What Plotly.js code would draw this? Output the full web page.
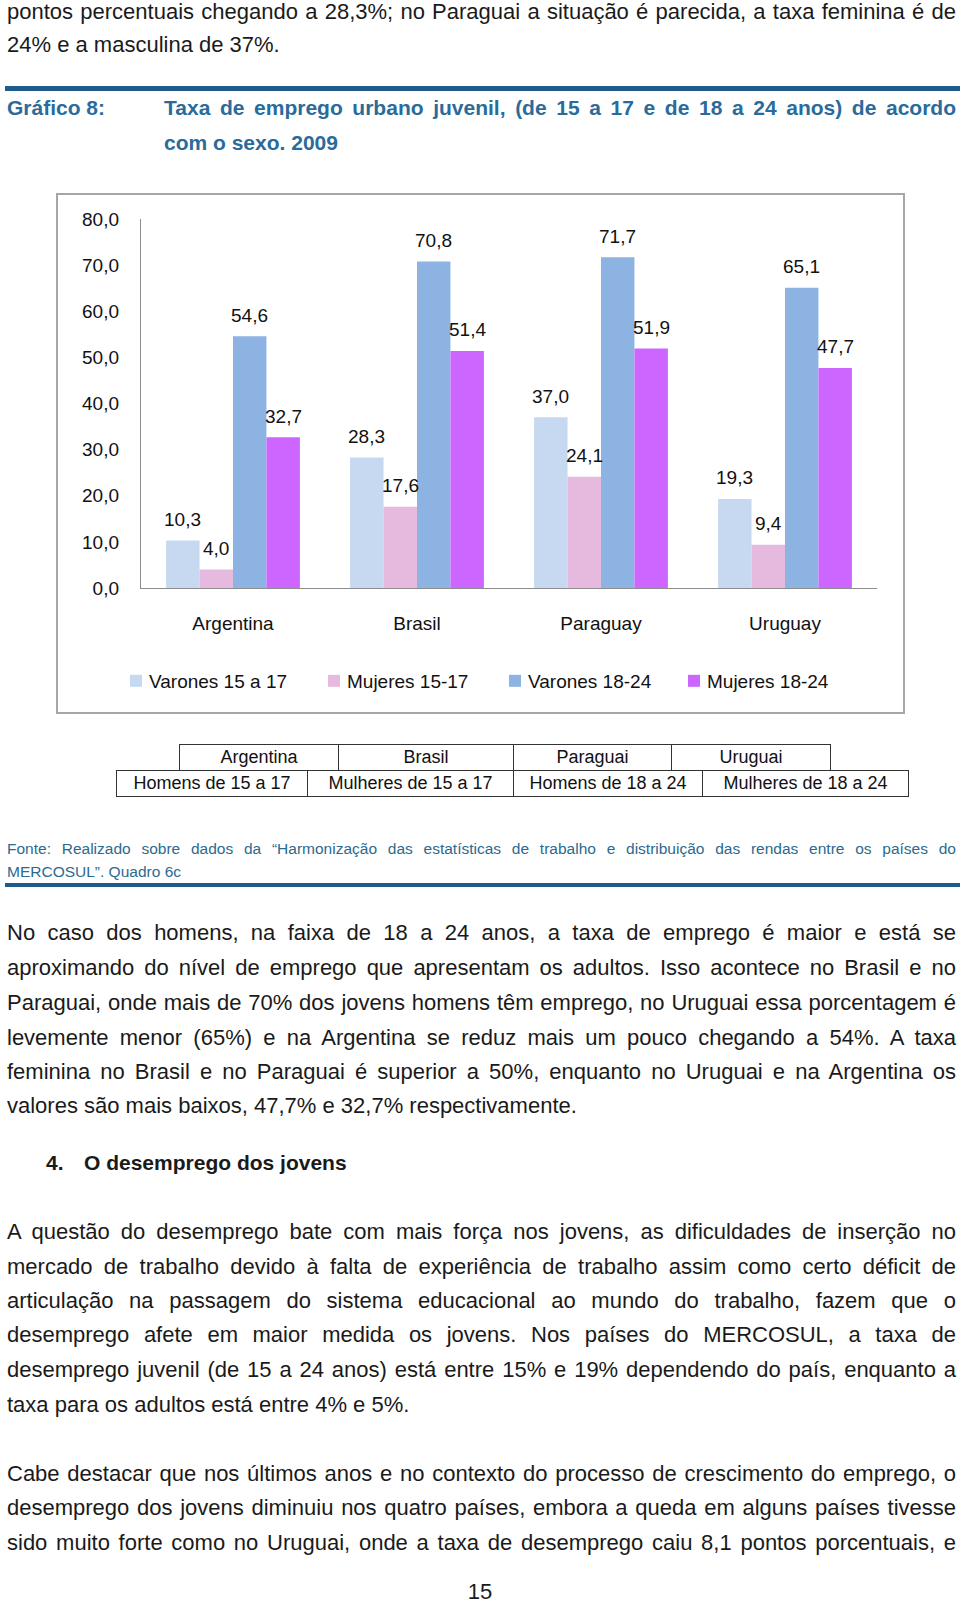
<!DOCTYPE html>
<html><head><meta charset="utf-8">
<script src="https://cdn.plot.ly/plotly-3.0.1.min.js"></script>
<style>
html,body{margin:0;padding:0;background:#fff;}
body{width:960px;height:1603px;position:relative;overflow:hidden;font-family:"Liberation Sans",Arial,sans-serif;color:#1a1a1a;}
.ln{position:absolute;left:7px;width:949px;height:30px;line-height:30px;font-size:22px;white-space:nowrap;}
.j{text-align:justify;text-align-last:justify;}
.rule{position:absolute;left:5px;width:955px;height:5px;background:#1f5c8b;}
.ttl{position:absolute;height:30px;line-height:30px;font-size:21px;font-weight:bold;color:#2a6b9b;white-space:nowrap;}
.fn{position:absolute;left:7px;width:949px;height:22px;line-height:22px;font-size:15.5px;color:#2b6a90;white-space:nowrap;}
.cell{position:absolute;box-sizing:border-box;border:1px solid #333;font-size:18px;text-align:center;line-height:24px;height:27px;white-space:nowrap;color:#111;}
#box{position:absolute;left:56px;top:193px;width:849px;height:521px;box-sizing:border-box;border:2px solid #a6a6a6;}
#chart{position:absolute;left:0;top:0;width:845px;height:517px;}
#chart .legendpoints{transform:translateX(7px);}
</style>
</head><body>

<div class="ln j" style="top:-3px">pontos percentuais chegando a 28,3%; no Paraguai a situação é parecida, a taxa feminina é de</div>
<div class="ln" style="top:30px">24% e a masculina de 37%.</div>

<div class="rule" style="top:86px"></div>
<div class="ttl" style="left:7px;top:93px">Gráfico 8:</div>
<div class="ttl j" style="left:164px;width:792px;top:93px">Taxa de emprego urbano juvenil, (de 15 a 17 e de 18 a 24 anos) de acordo</div>
<div class="ttl" style="left:164px;top:128px">com o sexo. 2009</div>

<div id="box"><div id="chart"></div></div>

<div id="table"></div>

<div class="fn j" style="top:838px">Fonte: Realizado sobre dados da “Harmonização das estatísticas de trabalho e distribuição das rendas entre os países do</div>
<div class="fn" style="top:861px">MERCOSUL”. Quadro 6c</div>
<div class="rule" style="top:883px;height:4px"></div>

<div class="ln j" style="top:918px">No caso dos homens, na faixa de 18 a 24 anos, a taxa de emprego é maior e está se</div>
<div class="ln j" style="top:953px">aproximando do nível de emprego que apresentam os adultos. Isso acontece no Brasil e no</div>
<div class="ln j" style="top:988px">Paraguai, onde mais de 70% dos jovens homens têm emprego, no Uruguai essa porcentagem é</div>
<div class="ln j" style="top:1023px">levemente menor (65%) e na Argentina se reduz mais um pouco chegando a 54%. A taxa</div>
<div class="ln j" style="top:1057px">feminina no Brasil e no Paraguai é superior a 50%, enquanto no Uruguai e na Argentina os</div>
<div class="ln" style="top:1091px">valores são mais baixos, 47,7% e 32,7% respectivamente.</div>

<div class="ln" style="top:1148px;left:46px;font-weight:bold;font-size:21px">4.</div>
<div class="ln" style="top:1148px;left:84px;font-weight:bold;font-size:21px">O desemprego dos jovens</div>

<div class="ln j" style="top:1217px">A questão do desemprego bate com mais força nos jovens, as dificuldades de inserção no</div>
<div class="ln j" style="top:1252px">mercado de trabalho devido à falta de experiência de trabalho assim como certo déficit de</div>
<div class="ln j" style="top:1286px">articulação na passagem do sistema educacional ao mundo do trabalho, fazem que o</div>
<div class="ln j" style="top:1320px">desemprego afete em maior medida os jovens. Nos países do MERCOSUL, a taxa de</div>
<div class="ln j" style="top:1355px">desemprego juvenil (de 15 a 24 anos) está entre 15% e 19% dependendo do país, enquanto a</div>
<div class="ln" style="top:1390px">taxa para os adultos está entre 4% e 5%.</div>

<div class="ln j" style="top:1459px">Cabe destacar que nos últimos anos e no contexto do processo de crescimento do emprego, o</div>
<div class="ln j" style="top:1493px">desemprego dos jovens diminuiu nos quatro países, embora a queda em alguns países tivesse</div>
<div class="ln j" style="top:1528px">sido muito forte como no Uruguai, onde a taxa de desemprego caiu 8,1 pontos porcentuais, e</div>

<div class="ln" style="top:1577px;left:0;width:960px;text-align:center">15</div>

<script>
// ---- data ----
const countries = ['Argentina', 'Brasil', 'Paraguay', 'Uruguay'];
const seriesNames = ['Varones 15 a 17', 'Mujeres 15-17', 'Varones 18-24', 'Mujeres 18-24'];
const varones15a17 = [10.3, 28.3, 37.0, 19.3];
const mujeres15a17 = [4.0, 17.6, 24.1, 9.4];
const varones18a24 = [54.6, 70.8, 71.7, 65.1];
const mujeres18a24 = [32.7, 51.4, 51.9, 47.7];
const yTickValues = [0, 10, 20, 30, 40, 50, 60, 70, 80];
const tableRow1 = ['Argentina', 'Brasil', 'Paraguai', 'Uruguai'];
const tableRow2 = ['Homens de 15 a 17', 'Mulheres de 15 a 17', 'Homens de 18 a 24', 'Mulheres de 18 a 24'];

// ---- styles ----
const colors = ['#c6d9f1', '#e6b9de', '#8db3e2', '#cc66ff'];
const legendWidths = [153, 136, 134, 140];
const bargap = 0.273;
const FONT = '"Liberation Sans", Arial, sans-serif';

const allSeries = [varones15a17, mujeres15a17, varones18a24, mujeres18a24];
const nS = allSeries.length;
const barW = (1 - bargap) / nS;

const traces = allSeries.map((vals, i) => ({
  type: 'bar',
  name: seriesNames[i],
  x: countries,
  y: vals,
  marker: {color: colors[i], line: {width: 0}},
  legendwidth: legendWidths[i],
  hoverinfo: 'skip'
}));

const fmt = v => v.toFixed(1).replace('.', ',');
const annotations = [];
allSeries.forEach((vals, i) => {
  vals.forEach((v, j) => {
    annotations.push({
      x: j + (i - (nS - 1) / 2) * barW,
      y: v,
      xref: 'x', yref: 'y',
      text: fmt(v),
      showarrow: false,
      yanchor: 'middle',
      yshift: 21,
      font: {family: FONT, size: 19, color: '#111'}
    });
  });
});

const layout = {
  width: 845, height: 517,
  margin: {l: 83, r: 26, t: 24, b: 124, autoexpand: false},
  paper_bgcolor: '#fff', plot_bgcolor: '#fff',
  barmode: 'group', bargap: bargap, bargroupgap: 0,
  separators: ',.',
  font: {family: FONT, size: 19, color: '#111'},
  showlegend: true,
  legend: {
    orientation: 'h', x: -0.0435, xanchor: 'left', y: -0.252, yanchor: 'middle',
    font: {family: FONT, size: 19, color: '#111'},
    traceorder: 'normal', itemclick: false, itemdoubleclick: false
  },
  xaxis: {
    type: 'category', showgrid: false, zeroline: false,
    showline: true, linecolor: '#8c8c8c', linewidth: 1.2,
    ticks: '', ticklabelstandoff: 18,
    tickfont: {family: FONT, size: 19, color: '#111'},
    fixedrange: true
  },
  yaxis: {
    range: [0, 80], tickvals: yTickValues, tickformat: '.1f',
    showgrid: false, zeroline: false,
    showline: true, linecolor: '#8c8c8c', linewidth: 1.2,
    ticks: '', ticklabelstandoff: 17,
    tickfont: {family: FONT, size: 19, color: '#111'},
    fixedrange: true
  },
  annotations: annotations
};

Plotly.newPlot('chart', traces, layout, {displayModeBar: false, staticPlot: true});

// ---- small table below the chart ----
const row1Edges = [179, 338, 513, 671, 830];
const row2Edges = [116, 307, 513, 702, 908];
const rowTops = [744, 770];
const tbl = document.getElementById('table');
function addRow(labels, edges, top) {
  labels.forEach((t, k) => {
    const d = document.createElement('div');
    d.className = 'cell';
    d.style.left = edges[k] + 'px';
    d.style.width = (edges[k + 1] - edges[k] + 1) + 'px';
    d.style.top = top + 'px';
    d.textContent = t;
    tbl.appendChild(d);
  });
}
addRow(tableRow1, row1Edges, rowTops[0]);
addRow(tableRow2, row2Edges, rowTops[1]);
</script>
</body></html>
